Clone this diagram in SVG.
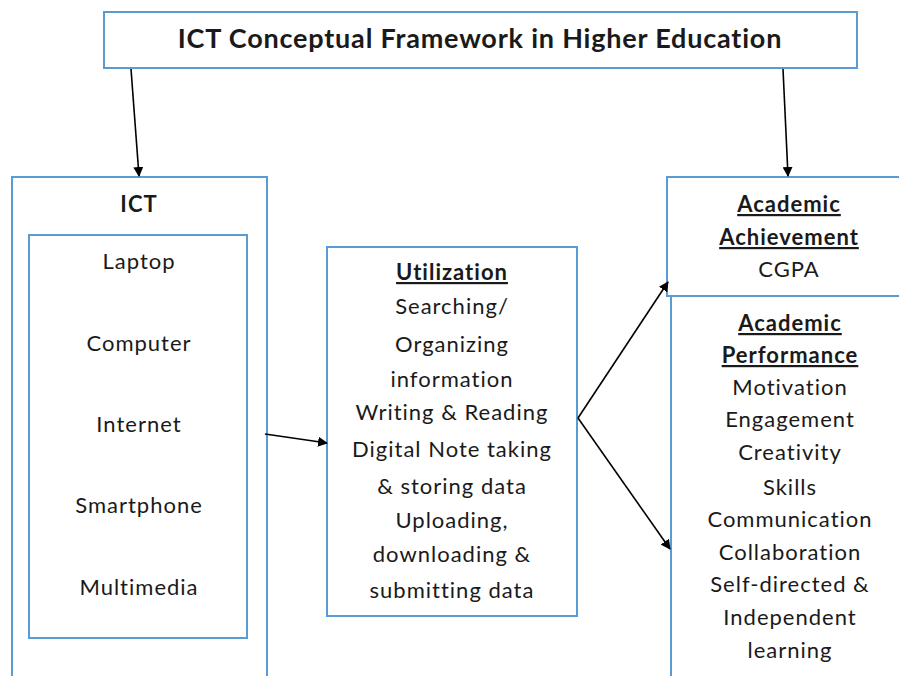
<svg xmlns="http://www.w3.org/2000/svg" width="899" height="676" viewBox="0 0 899 676">
<style>
.box{fill:#fff;stroke:#5B9BD5;stroke-width:2}
text{font-family:Lato,"Open Sans","Liberation Sans",sans-serif;fill:#1a1a1a;text-anchor:middle}
.t{font-size:22px;letter-spacing:1px}
.b{font-weight:bold}
.u{text-decoration:underline}
.c{stroke:#000;stroke-width:1.6;fill:none;marker-end:url(#ah)}
</style>
<defs>
<marker id="ah" markerWidth="10" markerHeight="10" refX="9" refY="5" orient="auto" markerUnits="userSpaceOnUse">
<path d="M0,0 L10,5 L0,10 Z" fill="#000"/>
</marker>
</defs>
<rect width="899" height="676" fill="#fff"/>
<g id="title">
<rect class="box" x="104" y="12" width="753" height="56"/>
<text class="b" x="480" y="48" font-size="27" letter-spacing="0.8">ICT Conceptual Framework in Higher Education</text>
</g>
<g id="ict">
<rect class="box" x="12" y="177" width="255" height="510"/>
<text class="t b" x="139" y="212">ICT</text>
</g>
<g id="devices">
<rect class="box" x="29" y="235" width="218" height="403"/>
<text class="t" x="139" y="269">Laptop</text>
<text class="t" x="139" y="351">Computer</text>
<text class="t" x="139" y="432">Internet</text>
<text class="t" x="139" y="513">Smartphone</text>
<text class="t" x="139" y="595">Multimedia</text>
</g>
<g id="utilization">
<rect class="box" x="327" y="247" width="250" height="369"/>
<text class="t b u" x="452" y="280">Utilization</text>
<text class="t" x="452" y="314">Searching/</text>
<text class="t" x="452" y="352">Organizing</text>
<text class="t" x="452" y="387">information</text>
<text class="t" x="452" y="420">Writing &amp; Reading</text>
<text class="t" x="452" y="457">Digital Note taking</text>
<text class="t" x="452" y="494">&amp; storing data</text>
<text class="t" x="452" y="528">Uploading,</text>
<text class="t" x="452" y="562">downloading &amp;</text>
<text class="t" x="452" y="598">submitting data</text>
</g>
<g id="achievement">
<rect class="box" x="667" y="177" width="240" height="119"/>
<text class="t b u" x="789" y="212">Academic</text>
<text class="t b u" x="789" y="245">Achievement</text>
<text class="t" x="789" y="277">CGPA</text>
</g>
<g id="performance">
<rect class="box" x="671" y="296" width="240" height="400"/>
<text class="t b u" x="790" y="331">Academic</text>
<text class="t b u" x="790" y="363">Performance</text>
<text class="t" x="790" y="395">Motivation</text>
<text class="t" x="790" y="427">Engagement</text>
<text class="t" x="790" y="460">Creativity</text>
<text class="t" x="790" y="495">Skills</text>
<text class="t" x="790" y="527">Communication</text>
<text class="t" x="790" y="560">Collaboration</text>
<text class="t" x="790" y="592">Self-directed &amp;</text>
<text class="t" x="790" y="625">Independent</text>
<text class="t" x="790" y="658">learning</text>
</g>
<g id="connectors">
<line class="c" x1="131" y1="69" x2="139" y2="176"/>
<line class="c" x1="783" y1="69" x2="788" y2="176"/>
<line class="c" x1="265" y1="434" x2="327" y2="443"/>
<line class="c" x1="578" y1="418" x2="668" y2="282"/>
<line class="c" x1="578" y1="418" x2="670" y2="549"/>
</g>
</svg>
